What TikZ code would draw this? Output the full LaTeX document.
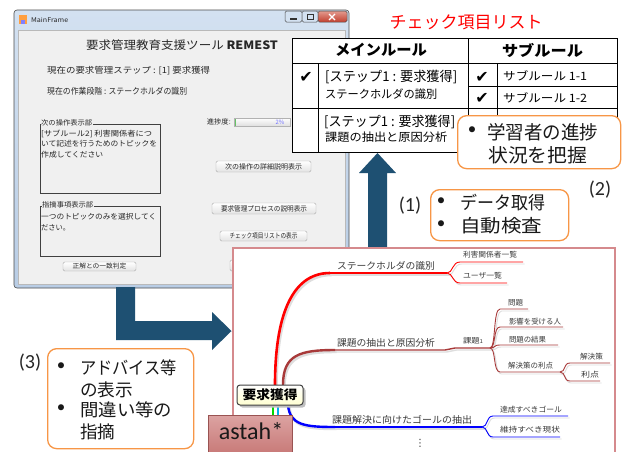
\documentclass[tikz,border=0pt]{standalone}
\usepackage{fontspec}
\usepackage{graphicx}
\setmainfont{Noto Sans CJK JP}
\newfontfamily\carl{Carlito}
\newfontfamily\dvs{DejaVu Sans}
\usetikzlibrary{calc}
\definecolor{arrowblue}{HTML}{1E5072}
\definecolor{callorange}{HTML}{F79646}
\definecolor{panelred}{HTML}{D58A8D}
\definecolor{winframe}{HTML}{B9CDE5}
\definecolor{winframeL}{HTML}{D3E1F1}
\definecolor{winbg}{HTML}{F0F0F0}
\definecolor{brred}{HTML}{A83A3A}
\definecolor{mmtext}{HTML}{3A3A3A}
\definecolor{closeT}{HTML}{E39A8E}
\definecolor{closeB}{HTML}{C2402F}
\definecolor{astahT}{HTML}{DCA3A2}
\definecolor{astahB}{HTML}{BF6866}
\newcommand\fw[2]{\resizebox{#1pt}{\height}{#2}}
\newcommand\fsz[1]{\fontsize{#1}{#1}\selectfont}
\newcommand\mmline[2]{\draw[#1,draw=black!13,transform canvas={shift={(1.5pt,-2pt)}}] #2; \draw[#1] #2;}
\begin{document}
\begin{tikzpicture}[x=1pt,y=-1pt,
  gui/.style={inner sep=0pt, anchor=west, text=black!85},
  btn/.style={draw=gray!65, rounded corners=1.5pt, top color=white, bottom color=gray!22, inner sep=0pt, text=black!85},
  callout/.style={draw=callorange, line width=1.3pt, fill=white, rounded corners=9pt, inner sep=0pt},
  tline/.style={line width=0.9pt, draw=black},
  bigarrow/.style={fill=arrowblue},
  mmt/.style={inner sep=0pt, text=mmtext},
  ctext/.style={inner sep=0pt, anchor=west, text=black!90},
  bul/.style={inner sep=0pt, text=black!90, font=\carl\fontsize{17}{17}\selectfont},
  plabel/.style={inner sep=0pt, font=\carl\fontsize{20}{20}\selectfont, text=black!85},
  chk/.style={inner sep=0pt, font=\dvs\fontsize{16}{16}\selectfont},
  tt/.style={inner sep=0pt, anchor=west}
]
\useasboundingbox (0,0) rectangle (623,451);
\fill[white] (0,0) rectangle (623,451);

% ---------------- window ----------------
\draw[line width=0.6pt, draw=gray!60!black, top color=winframeL, bottom color=winframe, rounded corners=3pt] (14,10) rectangle (349,288);
\draw[draw=gray!55, fill=winbg] (18,30) rectangle (345,284);
\fill[orange!75] (19,15) rectangle (27,24);
\fill[blue!50] (21,20) rectangle (25,24);
\node[gui] (mf) at (31,20) {\fsz{6.5}\fw{37}{MainFrame}};
\draw[gray!60!black, line width=0.5pt, fill=winframeL, rounded corners=1.5pt] (285,11) rectangle (302,22);
\draw[gray!60!black, line width=0.5pt, fill=winframeL, rounded corners=1.5pt] (302,11) rectangle (318,22);
\draw[gray!60!black, line width=0.5pt, top color=closeT, bottom color=closeB, rounded corners=1.5pt] (318,11) rectangle (347,22);
\draw[gray!40!black, line width=1.2pt] (290,19) -- (297,19);
\draw[gray!40!black, line width=0.8pt] (307,14) rectangle (313,19);
\draw[white, line width=1.3pt] (329,14) -- (335,20) (335,14) -- (329,20);

\node[inner sep=0pt, text=black!85] (ttl) at (182,45) {\fsz{11.5}\fw{192}{要求管理教育支援ツール \textbf{REMEST}}};
\node[gui] (st) at (47,71) {\fsz{8.5}\fw{163}{現在の要求管理ステップ : [1] 要求獲得}};
\node[gui] (ph) at (47,91) {\fsz{8.5}\fw{140}{現在の作業段階 : ステークホルダの識別}};

\draw[gray!50!black, line width=0.7pt] (40,124) rectangle (160,193);
\node[gui, fill=winbg, inner xsep=0.5pt] (f1) at (40.5,123) {\fsz{7}\fw{51}{次の操作表示部}};
\node[gui] at (41,133.5) {\fsz{7.5}\fw{111}{[サブルール2] 利害関係者につ}};
\node[gui] at (41,144) {\fsz{7.5}\fw{116}{いて記述を行うためのトピックを}};
\node[gui] at (41,154.5) {\fsz{7.5}\fw{62}{作成してください}};

\draw[gray!50!black, line width=0.7pt] (40,206) rectangle (160,256);
\node[gui, fill=winbg, inner xsep=0.5pt] (f2) at (41.5,205) {\fsz{7}\fw{51}{指摘事項表示部}};
\node[gui] at (41,217) {\fsz{7.5}\fw{115}{一つのトピックのみを選択してく}};
\node[gui] at (41,228) {\fsz{7.5}\fw{29}{ださい。}};

\node[btn, minimum width=73pt, minimum height=9pt] (b4) at (99.5,266.5) {\fsz{6.5}\fw{54}{正解との一致判定}};
\node[btn, minimum width=95pt, minimum height=11pt] (b1) at (263.5,166.5) {\fsz{7}\fw{77}{次の操作の詳細説明表示}};
\node[btn, minimum width=104pt, minimum height=11pt] (b2) at (264,208.5) {\fsz{7}\fw{86}{要求管理プロセスの説明表示}};
\node[btn, minimum width=87pt, minimum height=10pt] (b3) at (263.5,236) {\fsz{7}\fw{68}{チェック項目リストの表示}};
\node[btn, minimum width=70pt, minimum height=11pt] (b5) at (265,265.5) {};

\node[gui, anchor=east] (pg) at (231,122) {\fsz{7}\fw{24}{進捗度:}};
\draw[gray!60, top color=white, bottom color=gray!25] (234,118) rectangle (290,126);
\fill[green!60!black!60] (234.5,118.5) rectangle (236,125.5);
\node[inner sep=0pt, text=blue!55] at (280,122) {\fsz{6}2\%};

% ---------------- check list table ----------------
\node[inner sep=0pt, text=red] (ctitle) at (466,22) {\fsz{17}\fw{153}{チェック項目リスト}};
\fill[white] (292,38) rectangle (617,152);
\draw[tline] (292,38) rectangle (617,152);
\draw[tline] (292,63) -- (617,63);
\draw[tline] (292,108) -- (617,108);
\draw[tline] (468,86) -- (617,86);
\draw[tline] (468,38) -- (468,152);
\draw[tline] (318,63) -- (318,152);
\draw[tline] (497,63) -- (497,152);
\node[inner sep=0pt] (hm) at (381,50) {\fsz{15}\bfseries\fw{92}{メインルール}};
\node[inner sep=0pt] (hs) at (542.5,50) {\fsz{15}\bfseries\fw{81}{サブルール}};
\node[chk] at (306,77) {✔};
\node[chk] at (482,77) {✔};
\node[chk] at (482,98) {✔};
\node[tt] at (325,77) {\fsz{13.5}\fw{132}{[ステップ1 : 要求獲得]}};
\node[tt] at (325,94) {\fsz{11.5}\fw{112}{ステークホルダの識別}};
\node[tt] at (503,76) {\fsz{11.5}\fw{84}{サブルール 1-1}};
\node[tt] at (503,98) {\fsz{11.5}\fw{84}{サブルール 1-2}};
\node[tt] at (324,122) {\fsz{13.5}\fw{131}{[ステップ1 : 要求獲得]}};
\node[tt] at (325,137.5) {\fsz{11.5}\fw{122}{課題の抽出と原因分析}};

% callout (2)
\node[callout, minimum width=163pt, minimum height=53pt, anchor=north west] (c2) at (457,115) {};
\node[bul] at (472,131) {•};
\node[ctext] at (487,132) {\fsz{19}\fw{111}{学習者の進捗}};
\node[ctext] at (488,155) {\fsz{19}\fw{99}{状況を把握}};
\node[plabel] (l2) at (600,190) {(2)};

% ---------------- block arrows ----------------
\fill[bigarrow] (368,250) -- (368,173) -- (359,173) -- (377.5,153) -- (396,173) -- (387,173) -- (387,250) -- cycle;
\fill[bigarrow] (116,287) -- (135,287) -- (135,321) -- (212,321) -- (212,312) -- (231.5,331) -- (212,350) -- (212,340) -- (116,340) -- cycle;

% callout (1)
\node[callout, minimum width=138pt, minimum height=51pt, anchor=north west] (c1) at (430,189) {};
\node[bul] at (441,202) {•};
\node[bul] at (441,225) {•};
\node[ctext] at (460,203) {\fsz{18}\fw{85}{データ取得}};
\node[ctext] at (460,226) {\fsz{18}\fw{82}{自動検査}};
\node[plabel] (l1) at (410,206) {(1)};

% ---------------- mind map panel ----------------
\draw[panelred, line width=1.2pt, fill=white] (233,248) rectangle (615,470);

\node[inner sep=0pt, minimum width=66pt, minimum height=20pt] (root) at (270,395) {};

% branch 1
\mmline{red, line width=2.6pt}{($(root.north)+(5,0)$) .. controls +(0,-65) and (290,273) .. (330,273)}
\mmline{red, line width=1.5pt}{(329,273) -- (447,273)}
\mmline{red, line width=0.9pt}{(447,273) .. controls (453,273) and (452,262) .. (460,262) -- (523,262)}
\mmline{red, line width=0.9pt}{(447,273) .. controls (453,273) and (452,283) .. (460,283) -- (507,283)}
% branch 2
\mmline{brred, line width=2.4pt}{($(root.north)+(13,0)$) .. controls +(0,-30) and (300,350) .. (335,350)}
\mmline{brred, line width=1.4pt}{(334,350) -- (445,350) -- (455,348) -- (490,348)}
\mmline{brred, line width=0.9pt}{(490,348) .. controls (496,348) and (493,309) .. (500,309) -- (528,309)}
\mmline{brred, line width=0.9pt}{(490,348) .. controls (496,348) and (493,327) .. (500,327) -- (563,327)}
\mmline{brred, line width=0.9pt}{(490,348) .. controls (496,348) and (493,345) .. (500,345) -- (558,345)}
\mmline{brred, line width=0.9pt}{(490,348) .. controls (496,348) and (493,372) .. (500,372) -- (560,372)}
\mmline{brred, line width=0.9pt}{(560,372) .. controls (566,372) and (563,363) .. (570,363) -- (610,363)}
\mmline{brred, line width=0.9pt}{(560,372) .. controls (566,372) and (563,381) .. (570,381) -- (600,381)}
% branch 3
\mmline{blue, line width=2.4pt}{($(root.south)+(18,0)$) .. controls +(2,20) and (305,427) .. (335,427)}
\mmline{blue, line width=1.4pt}{(334,427) -- (482,427)}
\mmline{blue, line width=0.9pt}{(482,427) .. controls (488,427) and (486,416) .. (493,416) -- (568,416)}
\mmline{blue, line width=0.9pt}{(482,427) .. controls (488,427) and (486,437) .. (493,437) -- (560,437)}
% other branches (hidden)
\draw[green!85!black, line width=2.2pt] ($(root.south)+(3,0)$) -- ++(0,18);
\draw[cyan, line width=2.2pt] ($(root.south)+(8,0)$) -- ++(0,18);

% root topic
\fill[black!25, rounded corners=3pt] (239.5,387.5) rectangle (305.5,407.5);
\node[draw=black!75, line width=1pt, top color=white, bottom color=yellow!18, rounded corners=3pt, minimum width=66pt, minimum height=20pt, inner sep=0pt] (rootbox) at (root) {\fsz{12.5}\bfseries\fw{55}{要求獲得}};

% topic texts
\node[mmt] (t1) at (386,266) {\fsz{9.5}\fw{98}{ステークホルダの識別}};
\node[mmt] (t11) at (490,255) {\fsz{7.5}\fw{54}{利害関係者一覧}};
\node[mmt] (t12) at (482.5,275.5) {\fsz{7.5}\fw{39}{ユーザ一覧}};
\node[mmt] (t2) at (386,343) {\fsz{9.5}\fw{98}{課題の抽出と原因分析}};
\node[mmt] (t21) at (473,341) {\fsz{7.5}\fw{20}{課題{\fsz{5.5}1}}};
\node[mmt] (t211) at (515.5,303) {\fsz{7.5}\fw{15}{問題}};
\node[mmt] (t212) at (535,321.5) {\fsz{7.5}\fw{52}{影響を受ける人}};
\node[mmt] (t213) at (527.5,339.5) {\fsz{7.5}\fw{37}{問題の結果}};
\node[mmt] (t214) at (530.5,366) {\fsz{7.5}\fw{45}{解決策の利点}};
\node[mmt] (t2141) at (591.5,357) {\fsz{7.5}\fw{23}{解決策}};
\node[mmt] (t2142) at (590,375) {\fsz{7.5}\fw{18}{利点}};
\node[mmt] (t3) at (402,420) {\fsz{9.5}\fw{140}{課題解決に向けたゴールの抽出}};
\node[mmt] (t31) at (531,409.5) {\fsz{7.5}\fw{62}{達成すべきゴール}};
\node[mmt] (t32) at (530,430) {\fsz{7.5}\fw{60}{維持すべき現状}};
\node[inner sep=0pt, text=black!80] (dots) at (420,443.5) {\dvs\fsz{10}⋮};

% astah box
\draw[draw=astahB!80!black, line width=0.5pt, top color=astahT, bottom color=astahB] (208,415) rectangle (292,470);
\node[inner sep=0pt, anchor=base, text=black!90] (astah) at (251,439) {\carl\fsz{24}astah*};

% callout (3)
\node[callout, minimum width=146pt, minimum height=100pt, anchor=north west] (c3) at (47,348) {};
\node[bul] at (61,367) {•};
\node[bul] at (61,409) {•};
\node[ctext] at (80,368) {\fsz{17.5}\fw{97}{アドバイス等}};
\node[ctext] at (80,390) {\fsz{17.5}\fw{53}{の表示}};
\node[ctext] at (80,410) {\fsz{17.5}\fw{92}{間違い等の}};
\node[ctext] at (80,432) {\fsz{17.5}\fw{35}{指摘}};
\node[plabel] (l3) at (30,363) {(3)};
\end{tikzpicture}
\end{document}
